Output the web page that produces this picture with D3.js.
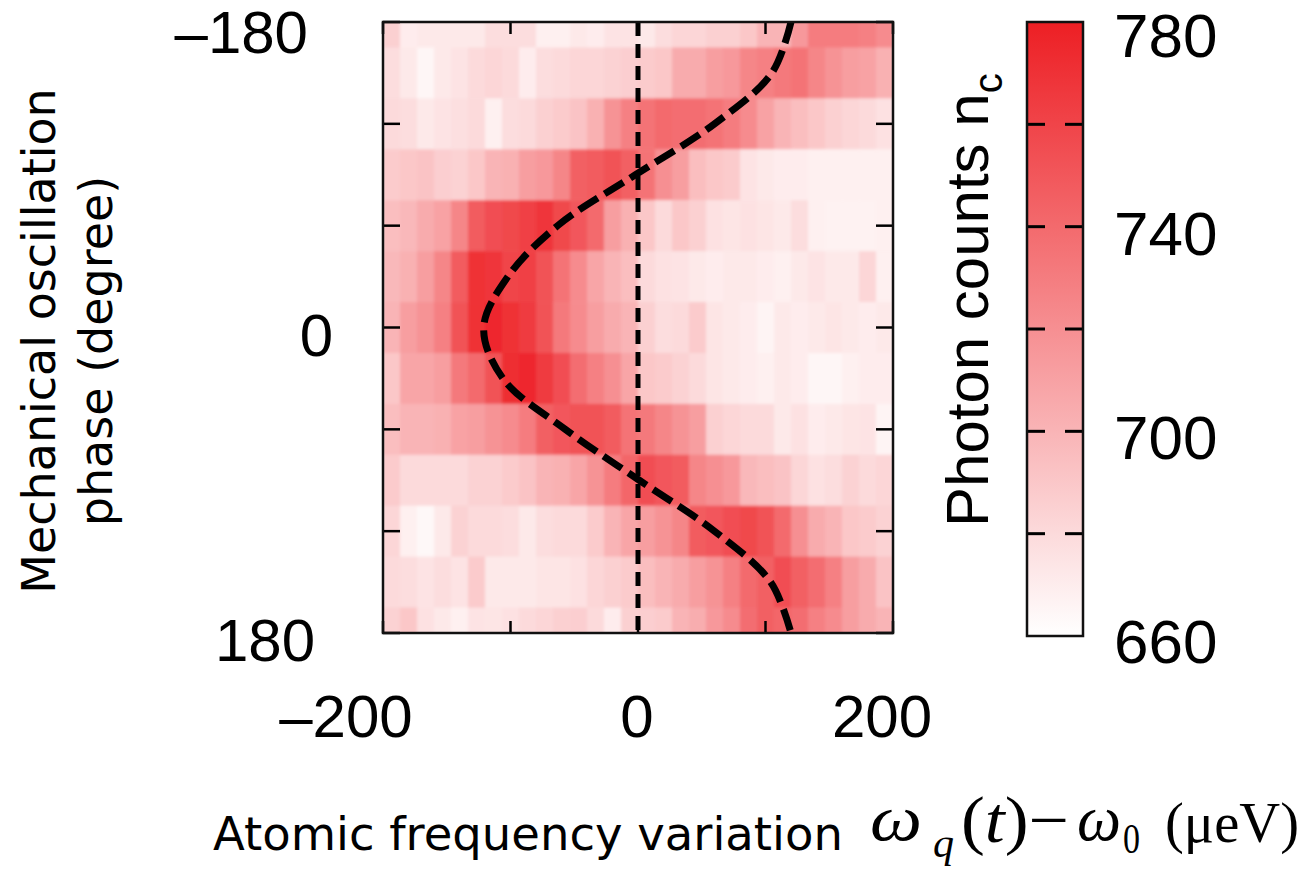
<!DOCTYPE html>
<html>
<head>
<meta charset="utf-8">
<script src="https://cdn.jsdelivr.net/npm/d3@7"></script>
<style>
  body { margin: 0; background: #fff; }
  svg { display: block; }
  text { fill: #000; }
</style>
</head>
<body>
<svg id="chart" width="1309" height="871"></svg>
<script>
// phases of the rows (degree) and frequency range (ueV)
const phases = [-180, -150, -120, -90, -60, -30, 0, 30, 60, 90, 120, 150, 180];
const freqRange = [-200, 200];
const nCols = 30;

// photon counts, one row per phase, 30 columns from -200 to 200
const counts = [
  [685,670,672,672,672,672,678,678,678,668,668,672,670,675,675,672,678,682,682,685,685,690,700,700,715,730,730,730,728,722],
  [678,672,665,672,675,680,682,680,670,678,680,682,682,684,686,688,690,705,705,712,715,725,728,732,735,725,718,712,710,702],
  [680,678,672,675,677,680,668,678,680,685,688,692,702,718,728,735,740,738,738,735,730,722,710,700,695,690,685,682,680,676],
  [688,690,692,686,684,690,700,702,712,715,725,745,748,752,745,735,720,712,695,690,688,675,672,670,670,668,668,668,668,668],
  [695,698,705,710,725,748,755,758,762,768,758,750,740,712,702,690,680,690,685,676,674,676,674,672,678,668,667,667,667,668],
  [698,702,712,725,748,770,768,760,762,752,735,722,708,700,695,680,676,675,672,670,672,672,670,668,672,675,672,672,682,668],
  [700,712,718,728,752,770,775,770,765,752,732,722,712,705,700,685,678,680,688,674,672,670,666,672,670,672,674,672,670,672],
  [690,708,708,712,732,740,752,772,775,765,755,738,728,720,708,690,688,684,680,674,672,670,668,672,670,665,665,668,670,670],
  [695,700,700,702,710,712,718,722,730,745,750,752,752,748,735,732,725,718,712,685,682,680,680,672,676,670,672,674,675,666],
  [688,680,680,680,680,684,684,688,692,700,702,708,718,730,742,755,750,748,725,720,715,698,695,692,682,676,678,684,680,682],
  [682,668,664,672,684,680,680,678,672,678,680,680,688,700,708,712,718,725,748,750,755,758,752,740,720,705,700,690,688,684],
  [680,678,675,678,675,688,672,672,672,674,674,676,682,685,688,695,700,705,712,718,728,740,745,755,745,738,728,712,705,692],
  [684,690,676,672,668,675,674,676,680,682,685,686,680,670,685,686,688,700,704,715,722,738,745,742,738,728,722,712,705,700]
];

// dashed guide curve
const curvePhase = [-180, -150, -120, -90, -60, -30, 0, 30, 60, 90, 120, 150, 180];
const curveFreq = [120, 105, 60, -2, -63, -102, -121, -106, -57, 1, 60, 104, 120];

const colorDomain = [660, 780];
const colorTicks = [660, 680, 700, 720, 740, 760, 780];
const colorLabels = [660, 700, 740, 780];
const xTicks = [-200, -100, 0, 100, 200];
const xLabels = [-200, 0, 200];
const yTicks = [-180, -120, -60, 0, 60, 120, 180];
const yLabels = [-180, 0, 180];

function translate(a, b) {
  return `translate(${a}, ${b})`;
}

const svg = d3.select('#chart');
const defs = svg.append('defs');
const plot = {left: 383, right: 893, top: 22, bottom: 633};

const x = d3.scaleLinear().domain(freqRange).range([plot.left, plot.right]);
const y = d3.scaleLinear().domain([-180, 180]).range([plot.top, plot.bottom]);
const color = d3.scaleLinear().domain(colorDomain).range(['#ffffff', '#ed1f24']).clamp(true);

const colW = (freqRange[1] - freqRange[0]) / nCols;
const rowH = 30;

// cells
const cells = [];
counts.forEach((row, r) => row.forEach((v, c) => cells.push({r, c, v})));

defs.append('clipPath').attr('id', 'plotClip')
  .append('rect')
  .attr('x', plot.left).attr('y', plot.top)
  .attr('width', plot.right - plot.left).attr('height', plot.bottom - plot.top);
defs.append('filter').attr('id', 'soft')
  .attr('x', -0.05).attr('y', -0.05).attr('width', 1.1).attr('height', 1.1)
  .append('feGaussianBlur').attr('stdDeviation', 1.4);

const heat = svg.append('g').attr('clip-path', 'url(#plotClip)');
heat.append('g').attr('filter', 'url(#soft)')
  .selectAll('rect.cell').data(cells).enter()
  .append('rect')
    .attr('class', 'cell')
    .attr('x', d => x(freqRange[0] + d.c * colW))
    .attr('y', d => y(phases[d.r] - rowH / 2))
    .attr('width', d => x(freqRange[0] + (d.c + 1) * colW) - x(freqRange[0] + d.c * colW) + 0.5)
    .attr('height', d => y(phases[d.r] + rowH / 2) - y(phases[d.r] - rowH / 2) + 0.5)
    .style('fill', d => color(d.v));

// vertical dashed line at 0
heat.append('line')
  .attr('x1', x(0)).attr('x2', x(0))
  .attr('y1', plot.top).attr('y2', plot.bottom)
  .style('stroke', '#000').style('stroke-width', 5)
  .style('stroke-dasharray', '14 8');

// dashed curve
const line = d3.line()
  .x((d, i) => x(curveFreq[i]))
  .y(d => y(d))
  .curve(d3.curveCatmullRom);
heat.append('path')
  .attr('d', line(curvePhase))
  .style('fill', 'none').style('stroke', '#000')
  .style('stroke-width', 7).style('stroke-dasharray', '22 8');

// ticks (inner, all four sides)
const tickG = svg.append('g').style('stroke', '#000').style('stroke-width', 2.5);
xTicks.forEach(t => {
  tickG.append('line').attr('x1', x(t)).attr('x2', x(t)).attr('y1', plot.top).attr('y2', plot.top + 12);
  tickG.append('line').attr('x1', x(t)).attr('x2', x(t)).attr('y1', plot.bottom).attr('y2', plot.bottom - 12);
});
yTicks.forEach(t => {
  tickG.append('line').attr('x1', plot.left).attr('x2', plot.left + 17).attr('y1', y(t)).attr('y2', y(t));
  tickG.append('line').attr('x1', plot.right).attr('x2', plot.right - 17).attr('y1', y(t)).attr('y2', y(t));
});

// frame
svg.append('rect')
  .attr('x', plot.left).attr('y', plot.top)
  .attr('width', plot.right - plot.left).attr('height', plot.bottom - plot.top)
  .style('fill', 'none').style('stroke', '#111').style('stroke-width', 2.5);

const fmt = v => v < 0 ? '\u2013' + Math.abs(v) : String(v);
const labelFont = "'Liberation Sans', Arial, sans-serif";
const titleFont = "'DejaVu Sans', Verdana, sans-serif";

// label nudges as placed in the original figure
const xLabelShift = {'-200': -37, '0': -1, '200': -11};
svg.selectAll('text.xlab').data(xLabels).enter()
  .append('text').attr('class', 'xlab')
  .attr('x', d => x(d) + xLabelShift[d]).attr('y', 737)
  .attr('text-anchor', 'middle')
  .style('font-family', labelFont).style('font-size', '60px')
  .text(fmt);

const yLabelRight = {'-180': 308, '0': 333, '180': 315};
svg.selectAll('text.ylab').data(yLabels).enter()
  .append('text').attr('class', 'ylab')
  .attr('x', d => yLabelRight[d])
  .attr('y', d => Math.max(53, y(d) + 28))
  .attr('text-anchor', 'end')
  .style('font-family', labelFont).style('font-size', '60px')
  .text(fmt);

// y title
const yTitle = svg.append('text')
  .attr('transform', 'rotate(-90)')
  .attr('text-anchor', 'middle')
  .style('font-family', titleFont).style('font-size', '46px');
yTitle.append('tspan').attr('x', -341).attr('y', 55).text('Mechanical oscillation');
yTitle.append('tspan').attr('x', -351).attr('y', 112).text('phase (degree)');

// x title
svg.append('text')
  .attr('x', 213).attr('y', 850)
  .style('font-family', titleFont).style('font-size', '46.5px')
  .text('Atomic frequency variation');

// the formula, piece by piece
const math = svg.append('g')
  .style('font-family', "'Liberation Serif', 'Times New Roman', serif");
const mathParts = [
  {t: '\u03c9', x: 870, w: 52, y: 840, size: 66, it: true},
  {t: 'q', x: 933, w: 21, y: 857, size: 42, it: true},
  {t: '(t)\u2212', x: 961, w: 108, y: 842, size: 66},
  {t: '\u03c9', x: 1077, w: 44, y: 840, size: 66, it: true},
  {t: '0', x: 1123, w: 17, y: 853, size: 42},
  {t: '(\u03bceV)', x: 1165, w: 134, y: 842, size: 57}
];
const mathText = math.selectAll('text').data(mathParts).enter()
  .append('text')
  .attr('x', d => d.x).attr('y', d => d.y)
  .attr('textLength', d => d.w).attr('lengthAdjust', 'spacingAndGlyphs')
  .style('font-size', d => d.size + 'px')
  .style('font-style', d => d.it ? 'italic' : 'normal');
mathText.each(function(d) {
  const el = d3.select(this);
  if (d.t === '(t)\u2212') {
    el.append('tspan').text('(');
    el.append('tspan').style('font-style', 'italic').text('t');
    el.append('tspan').text(')\u2212');
  } else {
    el.text(d.t);
  }
});

// colorbar
const cb = {left: 1027, right: 1083, top: 22, bottom: 636};
const cy = d3.scaleLinear().domain(colorDomain).range([cb.bottom, cb.top]);
const grad = defs.append('linearGradient')
  .attr('id', 'cbGrad').attr('x1', 0).attr('x2', 0).attr('y1', 1).attr('y2', 0);
colorTicks.forEach(v => {
  grad.append('stop')
    .attr('offset', (v - colorDomain[0]) / (colorDomain[1] - colorDomain[0]))
    .attr('stop-color', color(v));
});
svg.append('rect')
  .attr('x', cb.left).attr('y', cb.top)
  .attr('width', cb.right - cb.left).attr('height', cb.bottom - cb.top)
  .style('fill', 'url(#cbGrad)');
const cbTicks = svg.append('g').style('stroke', '#000').style('stroke-width', 3);
colorTicks.slice(1, -1).forEach(v => {
  cbTicks.append('line').attr('x1', cb.left).attr('x2', cb.left + 18).attr('y1', cy(v)).attr('y2', cy(v));
  cbTicks.append('line').attr('x1', cb.right - 18).attr('x2', cb.right).attr('y1', cy(v)).attr('y2', cy(v));
});
svg.append('rect')
  .attr('x', cb.left).attr('y', cb.top)
  .attr('width', cb.right - cb.left).attr('height', cb.bottom - cb.top)
  .style('fill', 'none').style('stroke', '#111').style('stroke-width', 2.5);

svg.selectAll('text.cblab').data(colorLabels).enter()
  .append('text').attr('class', 'cblab')
  .attr('x', 1114).attr('y', d => Math.max(57, Math.min(663, cy(d) + 28)))
  .style('font-family', labelFont).style('font-size', '62px')
  .text(d => d);

const cbTitle = svg.append('text')
  .attr('transform', translate(988, 527) + ' rotate(-90)')
  .style('font-family', labelFont).style('font-size', '60px');
cbTitle.append('tspan').text('Photon counts n');
cbTitle.append('tspan').style('font-size', '40px').attr('dy', 14).text('c');
</script>
</body>
</html>
